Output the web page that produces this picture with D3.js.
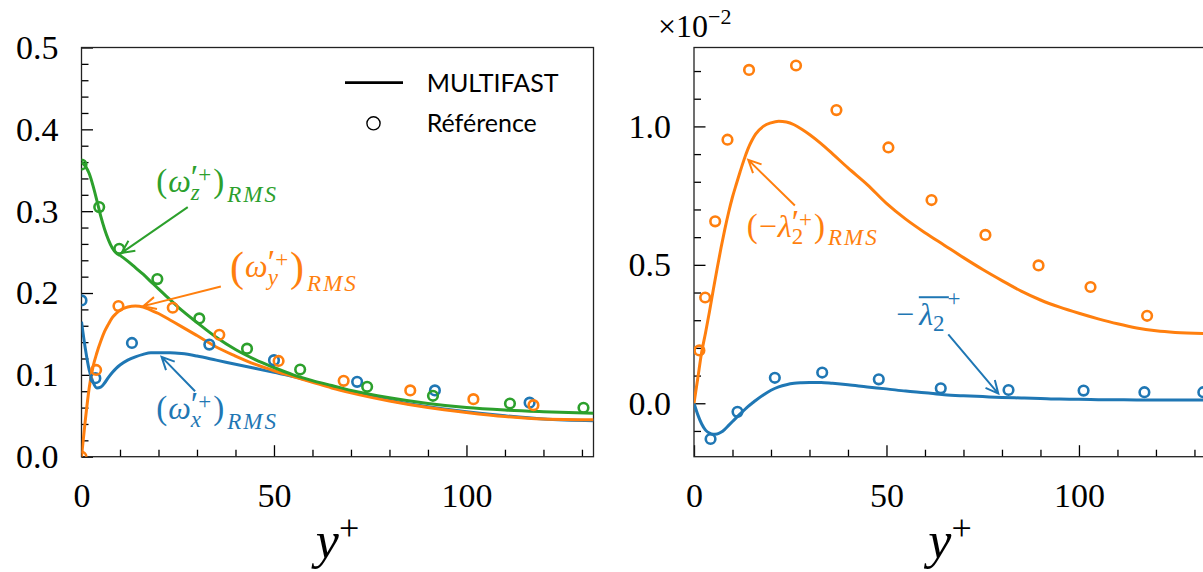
<!DOCTYPE html>
<html><head><meta charset="utf-8">
<script src="https://cdn.jsdelivr.net/npm/d3@7"></script>
<style>body{margin:0;background:#fff} svg{display:block}</style>
</head><body><svg id="c" width="1203" height="572"></svg>
<script>
// ---------- DATA ----------
const xTicksMajor = [0, 50, 100];
const xTicksMinor = [10,20,30,40,60,70,80,90,110,120,130];
const yTicksLeft = [0, 0.1, 0.2, 0.3, 0.4, 0.5];
const yTicksLeftMinor = [0.02,0.04,0.06,0.08,0.12,0.14,0.16,0.18,0.22,0.24,0.26,0.28,0.32,0.34,0.36,0.38,0.42,0.44,0.46,0.48];
const yTicksRight = [0, 0.5, 1.0];
const yTicksRightMinor = [-0.1, 0.1, 0.2, 0.3, 0.4, 0.6, 0.7, 0.8, 0.9, 1.1, 1.2];

// left panel: MULTIFAST curves
const yPlusLeft = [0,1,2,3,4,5,6,7,8,9,10,12,14,16,18,20,23,26,30,35,40,45,50,55,60,65,70,80,90,100,110,120,133];
const omegaZ = [0.360,0.355,0.346,0.331,0.313,0.294,0.278,0.265,0.255,0.249,0.246,0.239,0.231,0.223,0.214,0.205,0.192,0.179,0.164,0.146,0.131,0.119,0.109,0.100,0.093,0.087,0.081,0.072,0.065,0.060,0.057,0.055,0.053];
const omegaY = [0.000,0.045,0.084,0.110,0.127,0.141,0.153,0.162,0.170,0.175,0.179,0.183,0.184,0.183,0.179,0.175,0.167,0.159,0.148,0.134,0.123,0.113,0.105,0.098,0.091,0.084,0.078,0.068,0.060,0.054,0.049,0.046,0.045];
const omegaX = [0.165,0.132,0.106,0.091,0.084,0.085,0.090,0.097,0.103,0.108,0.112,0.118,0.122,0.125,0.127,0.127,0.127,0.126,0.123,0.118,0.113,0.108,0.103,0.098,0.092,0.086,0.080,0.069,0.061,0.055,0.050,0.046,0.044];

// left panel: reference points
const refOmegaXx = [0, 3.6, 13.1, 33.2, 50, 71.6, 91.8, 116.4];
const refOmegaXy = [0.191, 0.096, 0.139, 0.137, 0.118, 0.0915, 0.081, 0.066];
const refOmegaYx = [0, 3.8, 9.6, 23.7, 35.8, 51.2, 68.1, 85.4, 101.8, 117.4];
const refOmegaYy = [0.0, 0.106, 0.184, 0.182, 0.149, 0.117, 0.0927, 0.081, 0.0703, 0.063];
const refOmegaZx = [0, 4.6, 9.8, 19.7, 30.6, 43.0, 56.8, 74.2, 91.3, 111.3, 130.4];
const refOmegaZy = [0.357, 0.305, 0.254, 0.217, 0.169, 0.132, 0.1065, 0.0854, 0.0744, 0.065, 0.0598];

// right panel: MULTIFAST curves (values x 10^-2)
const yPlusRight = [0,1,2,3,4,5,6,7,8,9,10,11,12,13,14,15,16,18,20,22,24,26,28,30,33,36,40,45,50,55,60,65,70,75,80,85,90,95,100,105,110,115,120,125,133];
const lambdaRms = [0,0.092,0.185,0.255,0.330,0.409,0.486,0.560,0.628,0.690,0.745,0.792,0.837,0.880,0.918,0.948,0.972,1.000,1.013,1.019,1.016,1.006,0.990,0.971,0.938,0.901,0.850,0.790,0.722,0.665,0.616,0.571,0.526,0.483,0.443,0.405,0.373,0.347,0.325,0.305,0.287,0.272,0.262,0.256,0.252];
const lambdaMean = [0,-0.042,-0.075,-0.097,-0.108,-0.112,-0.111,-0.105,-0.094,-0.080,-0.066,-0.052,-0.038,-0.025,-0.012,-0.001,0.010,0.030,0.047,0.059,0.067,0.072,0.074,0.075,0.075,0.072,0.067,0.059,0.052,0.044,0.038,0.031,0.027,0.024,0.021,0.019,0.017,0.015,0.0145,0.013,0.0125,0.012,0.012,0.012,0.012];

// right panel: reference points
const refLambdaRmsX = [1.4, 2.9, 5.5, 8.7, 14.3, 26.5, 37, 50.5, 61.7, 75.7, 89.5, 103, 117.7];
const refLambdaRmsY = [0.191, 0.382, 0.657, 0.952, 1.204, 1.22, 1.059, 0.924, 0.734, 0.608, 0.498, 0.42, 0.316];
const refLambdaMeanX = [4.3, 11.3, 21, 33.3, 48, 64.1, 81.7, 101.2, 117, 132.3];
const refLambdaMeanY = [-0.129, -0.031, 0.092, 0.111, 0.0865, 0.054, 0.048, 0.0457, 0.04, 0.04];

const legendLabels = ["MULTIFAST", "Référence"];

// ---------- STYLE ----------
const blue = "#1f77b4", orange = "#ff7f0e", green = "#2ca02c";
const serif = "Liberation Serif";
const sans = "Lato";

const svg = d3.select("#c");
svg.append("rect").attr("width", 1203).attr("height", 572).attr("fill", "#fff");

const yTop = 47.5, yBot = 456.7;
const xL = d3.scaleLinear().domain([0, 133]).range([81.5, 593.5]);
const yL = d3.scaleLinear().domain([0, 0.5]).range([yBot, yTop]);
const xR = d3.scaleLinear().domain([0, 133]).range([694, 1206]);
const yR = d3.scaleLinear().domain([-0.193, 1.285]).range([yBot, yTop]);

const defs = svg.append("defs");
function clip(id, x) {
  defs.append("clipPath").attr("id", id).append("rect")
    .attr("x", x.range()[0]).attr("y", yTop)
    .attr("width", x.range()[1] - x.range()[0]).attr("height", yBot - yTop);
}
clip("clipL", xL); clip("clipR", xR);

function axes(x, y, yMajor, yMinor) {
  const g = svg.append("g");
  const styleTicks = s => { s.attr("font-family", serif); s.select(".domain").remove(); s.selectAll("line").attr("stroke", "#000").attr("stroke-width", 1.3); };
  g.append("g").attr("transform", `translate(0,${yBot})`)
    .call(d3.axisBottom(x).tickValues(xTicksMinor).tickSize(-7).tickFormat("")).call(styleTicks);
  g.append("g").attr("transform", `translate(0,${yBot})`)
    .call(d3.axisBottom(x).tickValues(xTicksMajor).tickSize(-11.5).tickPadding(26).tickFormat(d3.format("d"))).call(styleTicks);
  g.append("g").attr("transform", `translate(${x.range()[0]},0)`)
    .call(d3.axisLeft(y).tickValues(yMinor).tickSize(-7).tickFormat("")).call(styleTicks);
  g.append("g").attr("transform", `translate(${x.range()[0]},0)`)
    .call(d3.axisLeft(y).tickValues(yMajor).tickSize(-11.5).tickPadding(23).tickFormat(d3.format(".1f"))).call(styleTicks);
  g.selectAll("text").attr("font-family", serif).attr("font-size", 34).attr("fill", "#000");
  g.append("rect").attr("x", x.range()[0]).attr("y", yTop)
    .attr("width", x.range()[1] - x.range()[0]).attr("height", yBot - yTop)
    .attr("fill", "none").attr("stroke", "#222").attr("stroke-width", 1.3);
  const t = svg.append("text").attr("x", (x.range()[0] + x.range()[1]) / 2).attr("y", 558)
    .attr("text-anchor", "middle").attr("font-family", serif).attr("fill", "#000");
  t.append("tspan").attr("font-style", "italic").attr("font-size", 52).text("y");
  t.append("tspan").attr("font-size", 36).attr("dy", -18).text("+");
}
axes(xL, yL, yTicksLeft, yTicksLeftMinor);
axes(xR, yR, yTicksRight, yTicksRightMinor);

function curve(x, y, xs, ys, color, clipId) {
  const line = d3.line().x(d => x(d[0])).y(d => y(d[1])).curve(d3.curveMonotoneX);
  svg.append("path").attr("clip-path", `url(#${clipId})`)
    .attr("d", line(xs.map((v, i) => [v, ys[i]])))
    .attr("fill", "none").attr("stroke", color).attr("stroke-width", 3).attr("stroke-linejoin", "round");
}
function points(x, y, xs, ys, color, clipId) {
  svg.append("g").attr("clip-path", `url(#${clipId})`).selectAll("circle")
    .data(xs.map((v, i) => [v, ys[i]])).join("circle")
    .attr("cx", d => x(d[0])).attr("cy", d => y(d[1])).attr("r", 4.8)
    .attr("fill", "none").attr("stroke", color).attr("stroke-width", 2.6);
}
curve(xL, yL, yPlusLeft, omegaX, blue, "clipL");
curve(xL, yL, yPlusLeft, omegaY, orange, "clipL");
curve(xL, yL, yPlusLeft, omegaZ, green, "clipL");
points(xL, yL, refOmegaXx, refOmegaXy, blue, "clipL");
points(xL, yL, refOmegaYx, refOmegaYy, orange, "clipL");
points(xL, yL, refOmegaZx, refOmegaZy, green, "clipL");

curve(xR, yR, yPlusRight, lambdaMean, blue, "clipR");
curve(xR, yR, yPlusRight, lambdaRms, orange, "clipR");
points(xR, yR, refLambdaMeanX, refLambdaMeanY, blue, "clipR");
points(xR, yR, refLambdaRmsX, refLambdaRmsY, orange, "clipR");

// ---------- legend ----------
const lg = svg.append("g");
lg.append("line").attr("x1", 345).attr("x2", 403).attr("y1", 82.7).attr("y2", 82.7).attr("stroke", "#000").attr("stroke-width", 2.8);
lg.append("circle").attr("cx", 373.5).attr("cy", 123.3).attr("r", 6.6).attr("fill", "none").attr("stroke", "#000").attr("stroke-width", 1.4);
lg.selectAll("text").data(legendLabels).join("text")
  .attr("x", 426.7).attr("y", (d, i) => 91.7 + i * 40)
  .attr("font-family", sans).attr("font-size", 25).attr("fill", "#000").text(d => d);

// ---------- annotations ----------
function mathText(x0, y0, color, parts) {
  const g = svg.append("g");
  let x = x0, prevStart = x0;
  parts.forEach(p => {
    const sx = p.stack ? prevStart : x + (p.gap || 0);
    const el = g.append("text").attr("x", sx).attr("y", y0 + (p.dy || 0))
      .attr("font-family", serif).attr("font-size", p.s).attr("font-style", p.i ? "italic" : "normal")
      .attr("fill", color);
    if (p.spans) p.spans.forEach(sp => el.append("tspan").attr("font-size", sp[1]).attr("dy", sp[2] || 0).text(sp[0]));
    else el.text(p.t);
    if (p.ls) el.attr("letter-spacing", p.ls);
    const w = el.node().getComputedTextLength();
    if (p.stack) x = Math.max(x, sx + w); else { prevStart = sx; x = sx + w; }
  });
  return g;
}
function arrow(x1, y1, x2, y2, color) {
  const a = Math.atan2(y1 - y2, x1 - x2), L = 14, da = 0.45;
  svg.append("path")
    .attr("d", `M${x1},${y1}L${x2},${y2}M${x2 + L * Math.cos(a + da)},${y2 + L * Math.sin(a + da)}L${x2},${y2}L${x2 + L * Math.cos(a - da)},${y2 + L * Math.sin(a - da)}`)
    .attr("fill", "none").attr("stroke", color).attr("stroke-width", 2).attr("stroke-linejoin", "miter");
}
const primePlus = [["′", 34, 6], ["+", 23, -6]];
function rmsParts(sub, bigParen) {
  const ps = bigParen ? 42 : 33, pdy = bigParen ? 4 : 0;
  return [
    {t: "(", s: ps, dy: pdy},
    {t: "ω", s: 32, i: true, gap: 1},
    {spans: primePlus, s: 23, dy: -10, gap: 0},
    {t: sub, s: 23, i: true, dy: 8, stack: true},
    {t: ")", s: ps, dy: pdy, gap: 2},
    {t: "RMS", s: 23, i: true, dy: bigParen ? 14 : 10, gap: 3, ls: 2}
  ];
}
mathText(xL(19.4), yL(0.323), green, rmsParts("z", false));
arrow(xL(27.6), yL(0.305), xL(10.4), yL(0.249), green);
mathText(xL(38.6), yL(0.219), orange, rmsParts("y", true));
arrow(xL(36.2), yL(0.208), xL(16.05), yL(0.184), orange);
mathText(xL(19.4), yL(0.046), blue, rmsParts("x", false));
arrow(xL(29.5), yL(0.080), xL(20.8), yL(0.122), blue);

mathText(xR(13.7), yR(0.599), orange, [
  {t: "(", s: 33},
  {t: "−", s: 32, gap: 1},
  {t: "λ", s: 32, i: true, gap: 1},
  {spans: primePlus, s: 23, dy: -10, gap: 0},
  {t: "2", s: 23, dy: 7, stack: true},
  {t: ")", s: 33, gap: 2},
  {t: "RMS", s: 23, i: true, dy: 8, gap: 3, ls: 2}
]);
arrow(xR(26.2), yR(0.714), xR(14.1), yR(0.879), orange);
const lm = mathText(xR(52.5), yR(0.281), blue, [
  {t: "−", s: 32},
  {t: "λ", s: 32, i: true, gap: 5},
  {t: "2", s: 23, dy: 6, gap: 0},
  {t: "+", s: 23, dy: -19, gap: 3}
]);
lm.append("line").attr("x1", xR(58.4)).attr("x2", xR(66.2)).attr("y1", yR(0.383)).attr("y2", yR(0.383))
  .attr("stroke", blue).attr("stroke-width", 2);
arrow(xR(66.05), yR(0.249), xR(79.05), yR(0.035), blue);

const f = svg.append("text").attr("x", 658).attr("y", 36.7).attr("font-family", serif).attr("fill", "#000");
f.append("tspan").attr("font-size", 32).text("×10");
f.append("tspan").attr("font-size", 22).attr("dy", -13).text("−2");
</script></body></html>
